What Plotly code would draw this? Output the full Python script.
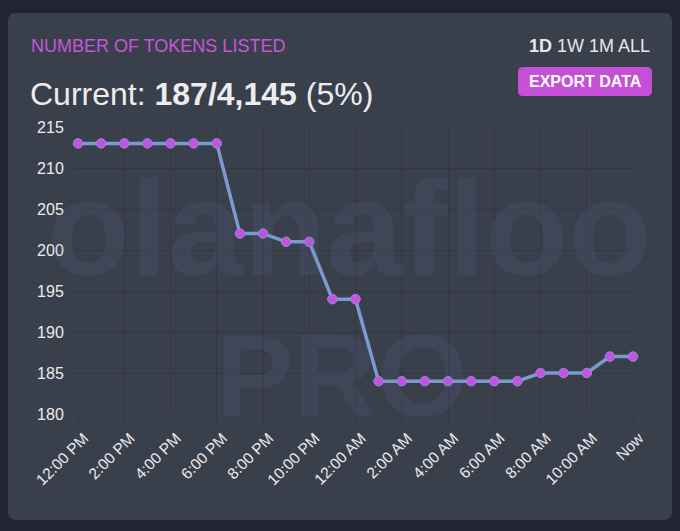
import plotly.graph_objs as go

# hourly points over the last day, last one is "Now"
times = ["12:00 PM", "1:00 PM", "2:00 PM", "3:00 PM", "4:00 PM", "5:00 PM",
         "6:00 PM", "7:00 PM", "8:00 PM", "9:00 PM", "10:00 PM", "11:00 PM",
         "12:00 AM", "1:00 AM", "2:00 AM", "3:00 AM", "4:00 AM", "5:00 AM",
         "6:00 AM", "7:00 AM", "8:00 AM", "9:00 AM", "10:00 AM", "11:00 AM", "Now"]
tokens_listed = [213, 213, 213, 213, 213, 213, 213, 202, 202, 201, 201, 194, 194,
                 184, 184, 184, 184, 184, 184, 184, 185, 185, 185, 187, 187]
tick_labels = times[::2]
y_ticks = [180, 185, 190, 195, 200, 205, 210, 215]

W, H = 680, 531
ML, MR, MT, MB = 78, 47, 127, 117
PW, PH = W - ML - MR, H - MT - MB


# pixel -> paper coords
def px(x):
    return (x - ML) / PW


def py(y):
    return (H - MB - y) / PH


def rounded_rect(x0, y0, x1, y1, r):
    return (f"M{px(x0 + r)},{py(y0)} L{px(x1 - r)},{py(y0)} "
            f"Q{px(x1)},{py(y0)} {px(x1)},{py(y0 + r)} "
            f"L{px(x1)},{py(y1 - r)} Q{px(x1)},{py(y1)} {px(x1 - r)},{py(y1)} "
            f"L{px(x0 + r)},{py(y1)} Q{px(x0)},{py(y1)} {px(x0)},{py(y1 - r)} "
            f"L{px(x0)},{py(y0 + r)} Q{px(x0)},{py(y0)} {px(x0 + r)},{py(y0)} Z")


def label(text, x, y, size, color, anchor="left", family=None):
    return dict(text=text, xref="paper", yref="paper", x=px(x), y=py(y),
                xanchor=anchor, yanchor="middle", showarrow=False,
                font=dict(family=family or font, size=size, color=color))


font = "Liberation Sans, Arial, sans-serif"
grid = "#333744"
wm = "rgba(110,120,170,0.13)"

data = [go.Scatter(
    x=times, y=tokens_listed,
    mode="lines+markers",
    line=dict(color="#7b9bce", width=3.5),
    marker=dict(color="#c552e0", size=9.5, line=dict(color="#8f8fd8", width=1)),
    cliponaxis=False,
    hoverinfo="x+y",
)]

shapes = [
    dict(type="path", xref="paper", yref="paper", layer="below",
         path=rounded_rect(8, 13, 672, 520, 8), fillcolor="#3a3f4c", line=dict(width=0)),
    dict(type="path", xref="paper", yref="paper",
         path=rounded_rect(518, 67, 652, 96, 5), fillcolor="#c64fd8", line=dict(width=0)),
]

annotations = [
    # faint watermark behind the chart
    label("<b>olanafloo</b>", 45, 228, 136, wm),
    label("<b>PRO</b>", 341, 376, 116, wm, anchor="center"),
    label("NUMBER OF TOKENS LISTED", 29, 46, 18, "#c457d8"),
    label("<b>1D</b> 1W 1M ALL", 652, 46, 18, "#e6e6ea", anchor="right"),
    label("<b>EXPORT DATA</b>", 585, 81.5, 16, "#ffffff", anchor="center"),
    label("Current: <b>187/4,145</b> (5%)", 28, 94, 32, "#ececef"),
]

layout = go.Layout(
    width=W, height=H,
    margin=dict(l=ML, r=MR, t=MT, b=MB),
    paper_bgcolor="#212532",
    plot_bgcolor="rgba(0,0,0,0)",
    showlegend=False,
    font=dict(family=font, color="#e8e8ec"),
    xaxis=dict(
        type="category", range=[0, 24],
        tickmode="array", tickvals=tick_labels, ticktext=tick_labels,
        tickangle=-45, tickfont=dict(size=15.5, color="#ececef"),
        ticklabelshift=6,
        showgrid=True, gridcolor=grid, gridwidth=1,
        ticks="outside", ticklen=8, tickcolor=grid,
        zeroline=False, showline=False,
    ),
    yaxis=dict(
        range=[180, 215], tickvals=y_ticks,
        tickfont=dict(size=16, color="#ececef"),
        showgrid=True, gridcolor=grid, gridwidth=1,
        ticks="outside", ticklen=10, tickcolor=grid,
        zeroline=False, showline=False,
    ),
    shapes=shapes,
    annotations=annotations,
)

fig = go.Figure(data=data, layout=layout)
fig.write_html("out.html", config={"displayModeBar": False},
               post_script="document.body.style.margin='0';"
                           "document.body.style.background='#212532';")
